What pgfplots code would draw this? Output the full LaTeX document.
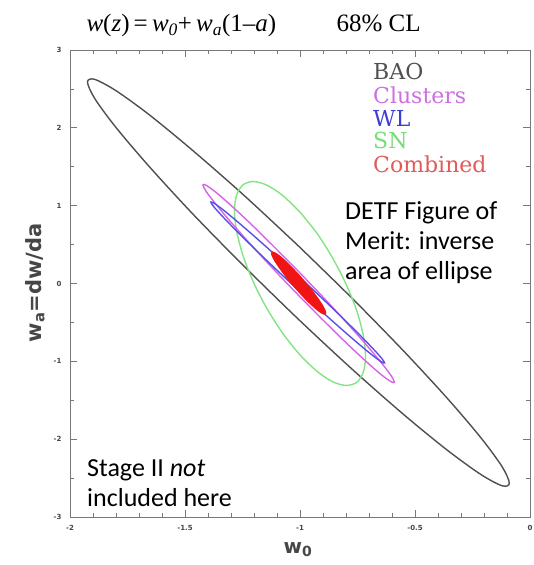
\documentclass[border=0pt]{standalone}
\usepackage{pgfplots}
\pgfplotsset{compat=1.18}
\usepackage{fontspec}
\setmainfont{Liberation Serif}
\newfontfamily\calfont{Carlito}
\newfontfamily\legfont{DejaVu Serif}
\newfontfamily\dvfont{DejaVu Sans}

\definecolor{axisgray}{RGB}{120,120,120}
\definecolor{labgray}{RGB}{70,70,70}
\definecolor{baoc}{RGB}{80,80,80}
\definecolor{clc}{RGB}{215,100,230}
\definecolor{wlc}{RGB}{90,80,230}
\definecolor{snc}{RGB}{130,228,130}
\definecolor{cbc}{RGB}{240,20,20}
\definecolor{cbtext}{RGB}{225,90,90}
\definecolor{cltext}{RGB}{205,110,225}
\definecolor{wltext}{RGB}{60,60,215}
\definecolor{sntext}{RGB}{120,220,120}

\begin{document}
\begin{tikzpicture}
\useasboundingbox (0,0) rectangle (534pt,565pt);
\begin{axis}[
  at={(70pt,48pt)}, anchor=south west,
  scale only axis, width=460pt, height=467pt,
  xmin=-2, xmax=0, ymin=-3, ymax=3,
  xtick={-2,-1.5,-1,-0.5,0},
  ytick={-3,-2,-1,0,1,2,3},
  minor x tick num=4, minor y tick num=1,
  tick align=inside,
  major tick length=7pt, minor tick length=4pt,
  axis line style={axisgray, line width=0.9pt},
  every tick/.style={axisgray, line width=0.7pt},
  ticklabel style={font=\dvfont\bfseries\fontsize{7}{8}\selectfont, text=labgray},
  /pgf/number format/assume math mode=true,
  xticklabel style={yshift=-5pt},
  yticklabel style={xshift=-5pt},
]
% BAO
\addplot[baoc, line width=1.4pt, smooth] coordinates {
(-1.007,0.483) (-1.244,1.134) (-1.466,1.708) (-1.655,2.167) (-1.801,2.479) (-1.893,2.623) (-1.924,2.589) (-1.893,2.379) (-1.801,2.008) (-1.655,1.501) (-1.466,0.893) (-1.244,0.224) (-1.007,-0.459) (-0.770,-1.110) (-0.549,-1.684) (-0.359,-2.143) (-0.213,-2.455) (-0.121,-2.599) (-0.090,-2.565) (-0.121,-2.355) (-0.213,-1.984) (-0.359,-1.477) (-0.549,-0.869) (-0.770,-0.200) (-1.007,0.483)
};
% SN
\addplot[snc, line width=1.4pt, smooth] coordinates {
(-1.000,0.917) (-1.074,1.128) (-1.143,1.262) (-1.202,1.310) (-1.247,1.269) (-1.275,1.141) (-1.285,0.936) (-1.275,0.667) (-1.247,0.352) (-1.202,0.013) (-1.143,-0.326) (-1.074,-0.644) (-1.000,-0.917) (-0.926,-1.128) (-0.858,-1.262) (-0.799,-1.310) (-0.753,-1.269) (-0.725,-1.141) (-0.715,-0.936) (-0.725,-0.667) (-0.753,-0.352) (-0.799,-0.013) (-0.858,0.326) (-0.926,0.644) (-1.000,0.917)
};
% Clusters
\addplot[clc, line width=1.4pt, smooth] coordinates {
(-1.006,0.153) (-1.114,0.475) (-1.214,0.766) (-1.300,1.003) (-1.366,1.173) (-1.408,1.262) (-1.422,1.266) (-1.408,1.183) (-1.366,1.020) (-1.300,0.787) (-1.214,0.501) (-1.114,0.180) (-1.006,-0.153) (-0.898,-0.475) (-0.798,-0.766) (-0.712,-1.003) (-0.646,-1.173) (-0.604,-1.262) (-0.590,-1.266) (-0.604,-1.183) (-0.646,-1.020) (-0.712,-0.787) (-0.798,-0.501) (-0.898,-0.180) (-1.006,0.153)
};
% WL
\addplot[wlc, line width=1.4pt, smooth] coordinates {
(-1.010,0.104) (-1.108,0.368) (-1.199,0.608) (-1.277,0.807) (-1.337,0.953) (-1.375,1.034) (-1.388,1.046) (-1.375,0.987) (-1.337,0.862) (-1.277,0.679) (-1.199,0.451) (-1.108,0.193) (-1.010,-0.078) (-0.912,-0.342) (-0.821,-0.582) (-0.743,-0.781) (-0.683,-0.927) (-0.645,-1.008) (-0.632,-1.020) (-0.645,-0.961) (-0.683,-0.836) (-0.743,-0.653) (-0.821,-0.425) (-0.912,-0.167) (-1.010,0.104)
};
% Combined
\addplot[draw=cbc, fill=cbc, line width=1pt, smooth] coordinates {
(-1.006,0.115) (-1.037,0.211) (-1.065,0.293) (-1.089,0.355) (-1.108,0.393) (-1.120,0.405) (-1.124,0.390) (-1.120,0.348) (-1.108,0.283) (-1.089,0.199) (-1.065,0.102) (-1.037,-0.002) (-1.006,-0.105) (-0.976,-0.201) (-0.947,-0.283) (-0.923,-0.345) (-0.904,-0.383) (-0.892,-0.395) (-0.888,-0.380) (-0.892,-0.338) (-0.904,-0.273) (-0.923,-0.189) (-0.947,-0.092) (-0.976,0.012) (-1.006,0.115)
};
\end{axis}

% title
\node[anchor=base west, font=\fontsize{25}{27}\selectfont] at (83pt,533pt)
  {\textit{w}(\textit{z})\,=\,\textit{w}\textsubscript{\textit{0}}+\,\textit{w}\textsubscript{\textit{a}}(1--\textit{a})};
\node[anchor=base west, font=\fontsize{25}{27}\selectfont] at (333pt,533pt) {68\% CL};

% legend
\begin{scope}[every node/.style={anchor=base west, font=\legfont\fontsize{22}{22}\selectfont, inner sep=0pt}]
\node[text=baoc] at (373pt,485pt) {BAO};
\node[text=cltext] at (373pt,461pt) {Clusters};
\node[text=wltext] at (373pt,438pt) {WL};
\node[text=sntext] at (373pt,416pt) {SN};
\node[text=cbtext] at (373pt,392pt) {Combined};
\end{scope}

% annotations
\begin{scope}[every node/.style={anchor=base west, font=\calfont\fontsize{26}{30}\selectfont, inner sep=0pt}]
\node at (345pt,345pt) {DETF Figure of};
\node at (345pt,315pt) {Merit: inverse};
\node at (345pt,285pt) {area of ellipse};
\node at (87pt,88pt) {Stage II \textit{not}};
\node at (87pt,58pt) {included here};
\end{scope}

% axis labels
\node[rotate=90, font=\dvfont\bfseries\fontsize{21}{22}\selectfont, text=labgray] at (35pt,282pt)
  {w\textsubscript{a}=dw/da};
\node[font=\dvfont\bfseries\fontsize{20}{22}\selectfont, text=labgray] at (298pt,15pt)
  {w\textsubscript{0}};
\end{tikzpicture}
\end{document}
